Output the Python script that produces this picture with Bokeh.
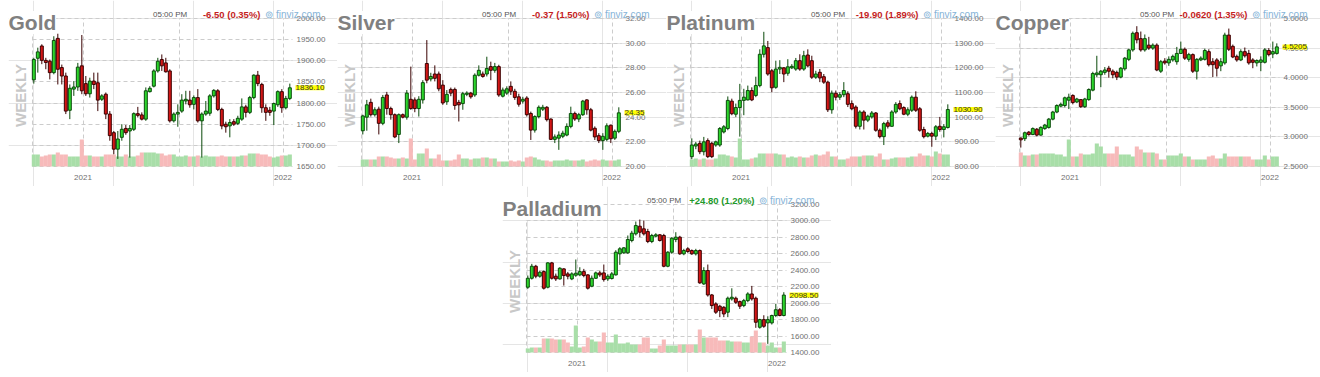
import math
from bokeh.plotting import figure
from bokeh.models import ColumnDataSource, Range1d, FixedTicker, Label, Grid, Spacer
from bokeh.layouts import row, column
from bokeh.embed import file_html
from bokeh.resources import INLINE

# ---------------- data (weekly candles) ----------------
YEAR_TICKS = [12.3, 62.3]
YEAR_LABELS = ["2021", "2022"]
GRID_LINES = [-0.28, 12.3, 36.3, 62.3]

gold_open = [1855,1906,1935,1901,1899,1872,1953,1884,1864,1783,
 1833,1838,1888,1846,1822,1852,1848,1809,1821,1774,
 1730,1691,1719,1740,1734,1738,1775,1772,1762,1827,
 1840,1876,1903,1895,1876,1758,1774,1781,1805,1807,
 1797,1813,1758,1774,1776,1817,1829,1785,1750,1746,
 1756,1752,1762,1791,1778,1813,1866,1844,1789,1783,
 1781,1796,1827,1789,1811]
gold_high = [1907,1931,1939,1907,1903,1958,1964,1891,1872,1844,
 1852,1895,1961,1864,1860,1872,1872,1821,1825,1781,
 1734,1734,1750,1748,1748,1778,1791,1778,1837,1840,
 1880,1907,1915,1907,1880,1778,1797,1821,1829,1829,
 1818,1833,1778,1805,1821,1833,1833,1789,1756,1762,
 1762,1770,1811,1796,1817,1868,1876,1848,1797,1791,
 1801,1830,1833,1817,1846]
gold_low = [1846,1872,1892,1880,1856,1868,1844,1844,1774,1762,
 1817,1829,1821,1817,1813,1833,1781,1805,1762,1711,
 1679,1668,1711,1725,1671,1734,1766,1759,1758,1825,
 1837,1872,1876,1872,1754,1754,1744,1777,1797,1789,
 1785,1754,1671,1770,1770,1813,1781,1738,1730,1719,
 1746,1748,1758,1766,1774,1809,1840,1777,1758,1770,
 1748,1791,1777,1785,1807]
gold_close = [1903,1921,1901,1896,1872,1948,1880,1864,1781,1835,
 1838,1885,1829,1822,1852,1844,1807,1817,1774,1723,
 1691,1715,1738,1730,1740,1775,1771,1762,1829,1835,
 1876,1899,1888,1874,1758,1774,1778,1807,1809,1796,
 1813,1758,1774,1781,1817,1830,1785,1746,1744,1754,
 1750,1764,1791,1778,1813,1866,1846,1789,1778,1778,
 1799,1827,1789,1811,1836.1]
gold_vol = [12,12,10,11,12,12,14,12,12,10,10,10,27,11,11,10,10,10,12,12,
 12,10,10,12,10,10,11,14,14,14,14,13,13,11,12,12,10,10,11,10,
 10,11,10,11,10,10,10,11,10,10,10,10,11,11,13,13,13,12,12,10,
 9,10,11,11,12]

silver_open = [22.9,24.0,25.2,24.2,24.65,23.5,25.8,24.7,24.2,22.6,
 24.2,24.0,25.45,25.4,24.7,25.4,28.35,27.1,27.5,27.5,
 26.6,25.25,26.25,26.25,25.2,25.1,25.85,25.95,25.8,27.4,
 27.5,27.5,28.1,27.8,28.1,25.7,25.95,26.5,26.1,25.65,
 25.3,25.55,24.3,22.95,24.05,24.65,24.8,23.85,22.2,22.3,
 22.45,22.55,23.25,24.3,23.85,24.2,25.4,24.6,23.1,22.5,
 22.1,22.2,23.35,22.3,22.85]
silver_high = [24.2,25.4,25.5,24.8,24.85,25.8,26.05,24.85,24.3,24.3,
 24.3,26.2,28.1,25.6,25.7,27.0,30.25,27.6,28.2,27.7,
 27.0,26.2,26.4,26.4,25.4,26.05,26.1,26.05,27.55,28.2,
 27.7,28.9,28.5,28.4,28.25,26.4,26.5,26.9,26.3,25.9,
 25.65,25.7,24.45,24.15,24.95,25.0,24.9,23.9,22.6,22.85,
 22.9,23.5,24.85,24.45,24.35,25.4,25.45,24.75,23.25,22.7,
 22.7,23.5,23.4,23.0,24.8]
silver_low = [22.6,22.9,24.05,24.05,22.6,23.35,24.2,23.8,22.3,21.9,
 23.9,23.8,24.6,24.4,24.05,25.1,26.75,26.9,26.9,26.1,
 25.0,25.0,25.7,24.6,23.65,24.6,25.7,25.5,25.65,27.3,
 27.2,27.3,27.0,27.6,25.65,25.6,25.8,25.8,25.4,24.85,
 25.1,24.05,22.15,22.75,23.9,24.5,23.65,22.15,21.9,21.35,
 22.3,22.45,23.1,23.7,23.6,24.1,24.2,22.85,22.15,21.9,
 21.35,22.05,21.9,22.15,22.7]
silver_close = [24.1,25.0,24.2,24.6,23.5,25.6,24.7,24.2,22.4,24.2,
 24.0,25.95,24.7,24.7,25.45,26.8,27.0,27.3,27.15,26.3,
 25.15,25.85,25.95,24.95,25.0,25.9,25.95,25.65,27.4,27.8,
 27.3,27.95,27.8,28.1,25.8,26.2,26.3,26.1,25.6,25.05,
 25.45,24.2,22.95,24.05,24.8,24.8,23.8,22.2,22.4,22.55,
 22.7,23.25,24.3,23.85,24.2,25.3,24.6,22.95,22.4,22.1,
 22.45,23.3,22.25,22.85,24.35]
silver_vol = [7,7,7,7,10,10,10,9,8,8,9,8,28,7,13,13,18,8,8,12,
 6,6,6,7,12,8,8,7,8,8,9,9,8,8,5,5,5,6,5,6,
 5,9,10,9,7,6,6,5,6,6,6,7,6,6,6,7,5,6,7,6,
 7,6,6,6,7]

plat_open = [840,883,894,860,905,894,887,887,940,954,
 1065,1012,1039,1068,1070,1108,1088,1128,1255,1282,
 1188,1121,1195,1200,1178,1200,1195,1229,1195,1252,
 1229,1162,1182,1164,1142,1030,1097,1081,1091,1095,
 1055,1041,963,1021,988,1001,1017,947,921,977,
 963,1021,1055,1039,1012,1028,1081,1034,950,923,
 934,923,963,950,958]
plat_high = [914,900,905,920,914,900,905,960,968,1084,
 1075,1055,1135,1115,1128,1121,1164,1275,1346,1309,
 1195,1229,1231,1202,1235,1215,1240,1255,1269,1275,
 1249,1188,1195,1175,1148,1108,1108,1101,1142,1105,
 1068,1048,1028,1028,1010,1025,1021,954,981,988,
 1028,1061,1068,1044,1040,1088,1105,1041,961,940,
 941,968,1001,972,1052]
plat_low = [830,870,850,845,834,834,880,880,934,947,
 1008,1001,921,1008,1068,1065,1081,1121,1242,1168,
 1101,1115,1175,1142,1168,1195,1188,1188,1188,1202,
 1155,1155,1142,1135,1021,1014,1068,1070,1081,1041,
 1028,954,950,950,980,994,941,914,887,954,
 961,1014,1028,1008,1004,1021,1021,941,914,918,
 880,907,941,918,954]
plat_close = [887,891,860,900,840,840,900,954,961,1068,
 1014,1039,1068,1081,1108,1070,1128,1255,1289,1175,
 1119,1195,1202,1175,1204,1206,1229,1195,1249,1208,
 1162,1175,1159,1142,1030,1097,1081,1091,1108,1052,
 1034,963,1021,988,1004,1017,947,921,974,963,
 1021,1052,1034,1012,1030,1081,1028,947,921,934,
 923,961,950,961,1030.9]
plat_vol = [7,8,7,8,7,7,8,12,12,11,10,9,28,7,7,8,9,13,13,13,
 13,13,12,12,9,10,9,10,9,9,11,12,11,12,15,10,10,7,7,8,
 10,10,10,11,11,11,10,13,7,7,8,9,9,9,9,10,10,13,11,11,
 10,15,13,12,12]

copper_open = [2.98,2.97,3.08,3.04,3.13,3.03,3.14,3.16,3.30,3.42,
 3.52,3.53,3.62,3.70,3.59,3.63,3.51,3.63,3.79,4.05,
 4.05,4.09,4.16,4.11,4.09,4.01,4.15,4.31,4.47,4.76,
 4.66,4.47,4.55,4.50,4.55,4.11,4.28,4.25,4.30,4.27,
 4.41,4.48,4.31,4.39,4.11,4.30,4.31,4.44,4.27,4.30,
 4.20,4.25,4.72,4.53,4.36,4.30,4.44,4.41,4.30,4.25,
 4.26,4.26,4.46,4.40,4.41]
copper_high = [2.99,3.09,3.10,3.16,3.15,3.18,3.22,3.32,3.44,3.55,
 3.58,3.68,3.73,3.72,3.66,3.64,3.66,3.82,4.10,4.37,
 4.13,4.18,4.20,4.14,4.12,4.18,4.35,4.49,4.78,4.87,
 4.78,4.73,4.69,4.58,4.58,4.30,4.33,4.36,4.39,4.52,
 4.61,4.51,4.42,4.41,4.33,4.36,4.49,4.48,4.33,4.33,
 4.33,4.76,4.83,4.56,4.39,4.48,4.51,4.47,4.33,4.31,
 4.36,4.50,4.50,4.61,4.58]
copper_low = [2.82,2.93,3.02,3.03,3.01,3.02,3.12,3.14,3.28,3.40,
 3.50,3.50,3.47,3.55,3.57,3.49,3.49,3.61,3.77,4.01,
 3.84,4.05,4.00,3.99,3.96,3.99,4.12,4.28,4.44,4.58,
 4.44,4.44,4.47,4.47,4.11,4.08,4.22,4.20,4.27,4.22,
 4.41,4.30,4.27,4.08,3.97,4.28,4.29,4.19,4.01,4.02,
 4.11,4.22,4.45,4.33,4.27,4.28,4.34,4.22,4.16,4.19,
 4.11,4.24,4.36,4.33,4.39]
copper_close = [2.95,3.07,3.04,3.14,3.03,3.16,3.20,3.30,3.42,3.53,
 3.55,3.66,3.67,3.58,3.64,3.51,3.64,3.80,4.07,4.08,
 4.11,4.13,4.11,4.05,4.01,4.16,4.33,4.47,4.75,4.64,
 4.47,4.66,4.50,4.55,4.13,4.27,4.25,4.31,4.36,4.41,
 4.48,4.33,4.39,4.11,4.31,4.33,4.46,4.22,4.22,4.16,
 4.27,4.72,4.48,4.35,4.30,4.44,4.37,4.25,4.26,4.29,
 4.30,4.47,4.39,4.44,4.5205]
copper_vol = [14,11,11,12,12,13,13,13,13,12,12,10,27,10,10,13,12,12,13,23,
 20,13,13,13,20,12,12,12,10,20,17,14,14,14,13,7,7,11,11,11,
 13,10,10,7,7,7,7,10,11,8,8,13,10,10,10,10,10,10,7,7,
 7,11,7,10,10]

pall_open = [2194,2303,2449,2328,2384,2194,2490,2328,2295,2417,
 2356,2295,2340,2344,2384,2344,2206,2303,2368,2368,
 2295,2300,2344,2600,2612,2612,2762,2843,2936,2904,
 2871,2750,2815,2831,2823,2449,2620,2774,2803,2600,
 2661,2640,2600,2640,2234,2397,2100,1991,1963,1950,
 1890,2052,2060,2019,1971,2031,2112,2060,1707,1800,
 1760,1760,1850,1920,1850]
pall_high = [2336,2478,2466,2396,2397,2498,2502,2360,2437,2425,
 2380,2376,2531,2437,2417,2352,2336,2384,2392,2470,
 2352,2380,2644,2681,2681,2823,2880,2993,3017,3005,
 2904,2843,2851,2840,2843,2632,2803,2863,2819,2661,
 2681,2653,2661,2653,2437,2470,2112,2011,1980,1963,
 2080,2181,2080,2031,2052,2133,2210,2080,1810,1853,
 1840,1860,1990,1940,2133]
pall_low = [2174,2287,2303,2310,2166,2180,2287,2270,2287,2214,
 2290,2280,2320,2328,2315,2166,2194,2295,2320,2262,
 2270,2287,2336,2466,2600,2600,2740,2823,2803,2823,
 2730,2730,2803,2750,2437,2437,2600,2742,2588,2583,
 2612,2588,2580,2235,2222,2080,1930,1869,1830,1830,
 1830,2031,1991,1930,1951,2011,2031,1700,1690,1700,
 1505,1740,1830,1840,1840]
pall_close = [2303,2449,2328,2376,2182,2490,2303,2295,2425,2336,
 2328,2356,2364,2384,2336,2182,2303,2368,2344,2287,
 2328,2356,2620,2661,2673,2774,2851,2944,2863,2843,
 2750,2823,2831,2762,2449,2620,2790,2803,2600,2640,
 2628,2600,2640,2247,2397,2100,1971,1890,1910,1869,
 2060,2072,2011,1963,2031,2112,2052,1768,1800,1719,
 1800,1850,1920,1850,2098.5]
pall_vol = [4,5,5,5,14,14,14,13,13,13,10,6,27,5,6,15,13,11,11,20,
 10,10,18,9,9,10,8,8,8,15,15,4,4,7,13,7,7,7,8,8,
 8,8,8,23,15,15,15,15,12,12,12,11,11,11,10,10,16,22,10,10,
 7,10,5,5,11]

gold_ticks = [1650, 1700, 1750, 1800, 1850, 1900, 1950, 2000]
silver_ticks = [20, 22, 24, 26, 28, 30, 32]
plat_ticks = [800, 900, 1000, 1100, 1200, 1300, 1400]
copper_ticks = [2.5, 3.0, 3.5, 4.0, 4.5, 5.0]
pall_ticks = [1400, 1600, 1800, 2000, 2200, 2400, 2600, 2800, 3000, 3200]

# ---------------- styling ----------------
FONT = "Liberation Sans"
UP_FILL, UP_LINE = "#2cd62c", "#0a4a0a"
DN_FILL, DN_LINE = "#d41616", "#3a0000"
UP_VOL, DN_VOL = "#a8dea8", "#f7baba"
RED_TXT, GREEN_TXT = "#c41e1e", "#22992a"
AXIS_TXT = "#707070"

# panel geometry in pixels (candle area inside each panel)
PAD_L, AREA_W, AREA_TOP, AREA_H = 24, 260, 18, 148


def panel(title, change, change_color, o, h, l, c, v, yticks, fmt, last_txt, width, height):
    n = len(c)
    up = [cc >= oo for oo, cc in zip(o, c)]
    src = ColumnDataSource(dict(
        x=list(range(n)), o=o, h=h, l=l, c=c, v=v,
        top=[max(a, b) for a, b in zip(o, c)],
        bot=[min(a, b) for a, b in zip(o, c)],
        fill=[UP_FILL if u else DN_FILL for u in up],
        line=[UP_LINE if u else DN_LINE for u in up],
        vcol=[UP_VOL if u else DN_VOL for u in up],
    ))
    x0, x1 = -0.33, n - 0.33
    y0, y1 = yticks[0], yticks[-1]
    ux = (x1 - x0) / AREA_W
    uy = (y1 - y0) / AREA_H
    below = height - AREA_TOP - AREA_H
    xr = Range1d(x0 - PAD_L * ux, x0 + (width - PAD_L) * ux)
    yr = Range1d(y0 - below * uy, y1 + AREA_TOP * uy)
    p = figure(width=width, height=height, x_range=xr, y_range=yr,
               output_backend="svg", toolbar_location=None,
               x_axis_location=None, y_axis_location=None,
               min_border=0, min_border_left=0, min_border_right=0,
               min_border_top=0, min_border_bottom=0)
    p.extra_y_ranges = {"vol": Range1d(-below, AREA_H + AREA_TOP)}
    p.outline_line_color = None
    p.background_fill_color = "white"
    p.border_fill_color = "white"

    gx = Grid(dimension=0, ticker=FixedTicker(ticks=GRID_LINES), cross_bounds=(y0, y1))
    gy = Grid(dimension=1, ticker=FixedTicker(ticks=yticks), cross_bounds=(x0, x1))
    for g in (gx, gy):
        g.grid_line_color = "#cccccc"
        g.grid_line_dash = "4 3"
        p.add_layout(g)

    p.vbar(x="x", width=1.02, top="v", bottom=0, source=src, y_range_name="vol",
           fill_color="vcol", line_color=None)
    p.segment(x0="x", y0="l", x1="x", y1="h", source=src, line_color="line", line_width=1)
    p.vbar(x="x", width=0.74, top="top", bottom="bot", source=src,
           fill_color="fill", line_color="line", line_width=1)

    # price labels (right) and year labels (bottom)
    for t in yticks:
        p.add_layout(Label(x=x1, y=t, x_offset=4, text=fmt % t, text_font=FONT,
                           text_font_size="8px", text_color=AXIS_TXT,
                           text_align="left", text_baseline="middle"))
    for t, s in zip(YEAR_TICKS, YEAR_LABELS):
        p.add_layout(Label(x=t, y=y0, y_offset=-11, text=s, text_font=FONT,
                           text_font_size="8px", text_color=AXIS_TXT,
                           text_align="center", text_baseline="alphabetic"))

    p.add_layout(Label(x=x0, y=y1, x_offset=-PAD_L, y_offset=-4, text=title,
                       text_font=FONT, text_font_size="21px", text_font_style="bold",
                       text_color="#808080", text_align="left", text_baseline="alphabetic",
                       background_fill_color="white"))
    p.add_layout(Label(x=x0, y=(y0 + y1) / 2, x_offset=-12, y_offset=-3, text="WEEKLY",
                       angle=math.pi / 2, text_font=FONT, text_font_size="15px",
                       text_font_style="bold", text_color="#c8c8c8",
                       text_align="center", text_baseline="middle"))
    p.add_layout(Label(x=x0, y=y1, x_offset=120.5, y_offset=4.5, text="05:00 PM",
                       text_font=FONT, text_font_size="8px", text_color="#555555",
                       text_align="left", text_baseline="alphabetic"))
    p.add_layout(Label(x=x0, y=y1, x_offset=228, y_offset=4.5, text=change,
                       text_font=FONT, text_font_size="9.5px", text_font_style="bold",
                       text_color=change_color, text_align="right", text_baseline="alphabetic"))
    p.add_layout(Label(x=x0, y=y1, x_offset=288, y_offset=4.5, text="\u229a finviz.com",
                       text_font=FONT, text_font_size="10px", text_color="#86b4d8",
                       text_align="right", text_baseline="alphabetic"))
    p.add_layout(Label(x=x1, y=c[-1], x_offset=3, text=last_txt,
                       text_font=FONT, text_font_size="8px", text_color="#333333",
                       text_align="left", text_baseline="middle",
                       background_fill_color="#ffff00"))
    return p


H = 186
p_gold = panel("Gold", "-6.50 (0.35%)", RED_TXT, gold_open, gold_high, gold_low, gold_close,
               gold_vol, gold_ticks, "%.2f", "1836.10", 329, H)
p_silver = panel("Silver", "-0.37 (1.50%)", RED_TXT, silver_open, silver_high, silver_low,
                 silver_close, silver_vol, silver_ticks, "%.2f", "24.35", 329, H)
p_plat = panel("Platinum", "-19.90 (1.89%)", RED_TXT, plat_open, plat_high, plat_low,
               plat_close, plat_vol, plat_ticks, "%.2f", "1030.90", 329, H)
p_copper = panel("Copper", "-0.0620 (1.35%)", RED_TXT, copper_open, copper_high, copper_low,
                 copper_close, copper_vol, copper_ticks, "%.4f", "4.5205", 325, H)
p_pall = panel("Palladium", "+24.80 (1.20%)", GREEN_TXT, pall_open, pall_high, pall_low,
               pall_close, pall_vol, pall_ticks, "%.2f", "2098.50", 329, H)

layout = column(row(Spacer(width=8, height=H), p_gold, p_silver, p_plat, p_copper),
                row(Spacer(width=502, height=H), p_pall))

open("out.html", "w").write(file_html(layout, INLINE))
